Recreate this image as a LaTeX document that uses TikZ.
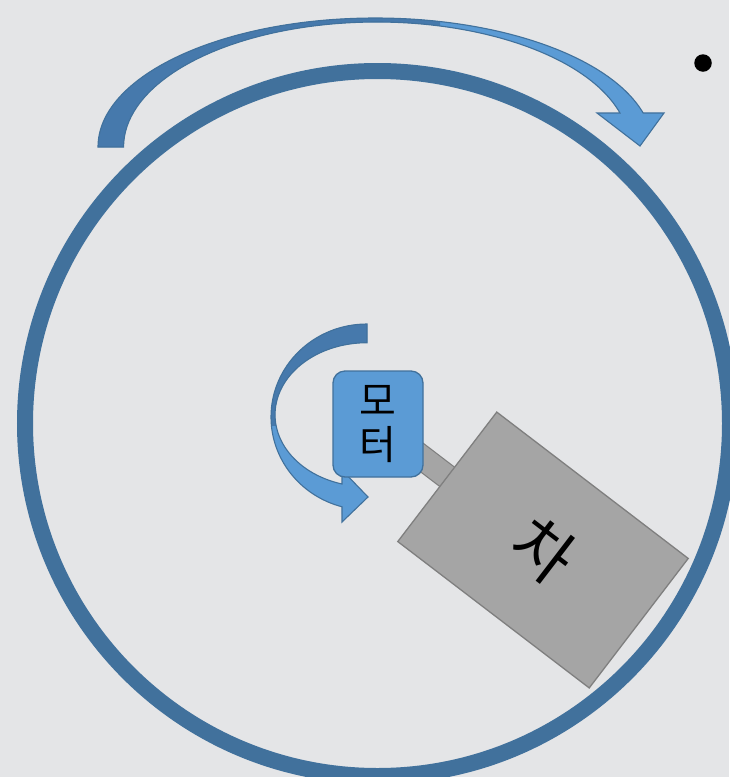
\documentclass[tikz,border=0pt]{standalone}
\usepackage{fontspec}
\newfontfamily\krfont{Noto Sans CJK KR}
\usetikzlibrary{backgrounds}
\definecolor{paper}{HTML}{E4E5E7}
\definecolor{rimblue}{HTML}{41719C}
\definecolor{darkblue}{HTML}{4679AC}
\definecolor{lightblue}{HTML}{5B9BD5}
\definecolor{bodygray}{HTML}{A5A5A5}
\definecolor{edgegray}{HTML}{7F7F7F}

% outline of the large turning arrow above the rim
\newcommand\turnarrowpath{%
  (98,147) arc[start angle=180,end angle=15.3,x radius=277.5pt,y radius=129pt]
  -- (664,113) -- (640,146) -- (597,113) -- (620,113)
  arc[start angle=15.8,end angle=180,x radius=253pt,y radius=125pt] -- cycle}
% outline of the small spin arrow around the motor
\newcommand\spinarrowpath{%
  (367,324) arc[start angle=90,end angle=254.9,x radius=96pt,y radius=93pt]
  -- (342,522) -- (368,497) -- (342,470) -- (342,484)
  arc[start angle=254.2,end angle=90,x radius=92pt,y radius=72pt] -- cycle}

\tikzset{
  rim/.style={draw=rimblue,line width=16pt},
  arrowedge/.style={draw=rimblue,line width=1.1pt,line join=miter},
  motorbox/.style={rectangle,rounded corners=12pt,fill=lightblue,draw=rimblue,
    line width=1.3pt,minimum width=90pt,minimum height=106pt,inner sep=0pt,
    align=center,font=\krfont\fontsize{40}{44}\selectfont},
  carbox/.style={rectangle,fill=bodygray,draw=edgegray,line width=1.3pt,
    minimum width=241pt,minimum height=163pt,inner sep=0pt,
    font=\krfont\fontsize{64}{66}\selectfont},
  shaft/.style={draw=edgegray,line width=1.2pt,double=bodygray,double distance=23pt},
}

\begin{document}
\begin{tikzpicture}[x=1pt,y=-1pt]
\useasboundingbox (0,0) rectangle (729,777);
\clip (0,0) rectangle (729,777);

% car body and motor
\node[carbox,rotate=-37.4] (car) at (543,550) {차};
\node[motorbox] (motor) at (378,424) {모\\터};

% bullet mark
\node[circle,fill=black,inner sep=0pt,minimum size=17.5pt] (dot) at (703,63) {};

\begin{scope}[on background layer]
  \fill[paper] (0,0) rectangle (729,777);
  % turntable rim
  \draw[rim] (377.5,423.5) circle[radius=352.5pt];
  % large turning arrow: light front, dark back half
  \fill[lightblue] \turnarrowpath;
  \begin{scope}
    \clip (0,0) rectangle (440,777);
    \fill[darkblue] \turnarrowpath;
  \end{scope}
  \draw[arrowedge] \turnarrowpath;
  % spin arrow of the motor: dark upper half, light lower half
  \fill[lightblue] \spinarrowpath;
  \begin{scope}
    \clip (0,0) rectangle (729,425);
    \fill[darkblue] \spinarrowpath;
  \end{scope}
  \draw[arrowedge] \spinarrowpath;
  % shaft joining motor and car
  \draw[shaft] (motor.center) -- (car.center);
\end{scope}
\end{tikzpicture}
\end{document}
